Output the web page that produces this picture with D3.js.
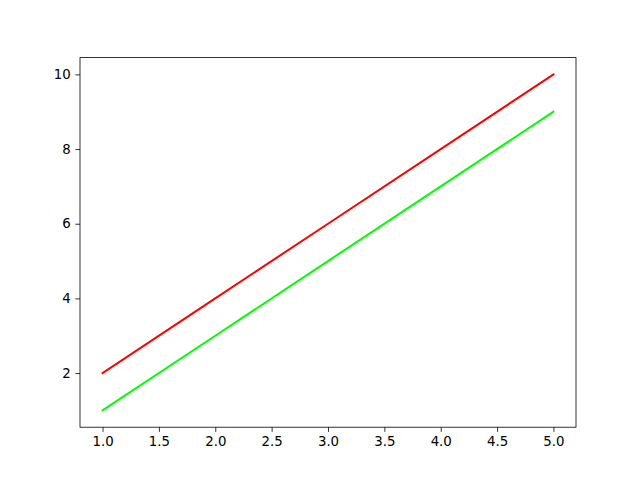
<!DOCTYPE html>
<html>
<head>
<meta charset="utf-8">
<script src="https://d3js.org/d3.v7.min.js"></script>
<style>
body { margin: 0; background: #fff; }
svg text { font-family: 'DejaVu Sans', sans-serif; font-size: 13.33px; fill: #000; }
</style>
</head>
<body>
<svg id="chart" width="640" height="480"></svg>
<script>
// data
var xs = [1, 2, 3, 4, 5];
var redY = [2, 4, 6, 8, 10];
var greenY = [1, 3, 5, 7, 9];
var xTicks = [1.0, 1.5, 2.0, 2.5, 3.0, 3.5, 4.0, 4.5, 5.0];
var yTicks = [2, 4, 6, 8, 10];

var svg = d3.select("#chart"),
    plotL = 80, plotR = 576, plotT = 57.6, plotB = 427.2;

var x = d3.scaleLinear().domain([0.8, 5.2]).range([plotL, plotR]);
var y = d3.scaleLinear().domain([0.55, 10.45]).range([plotB, plotT]);

svg.append("rect").attr("width", 640).attr("height", 480).attr("fill", "#fff");

var line = d3.line()
    .x(function(d) { return x(d[0]); })
    .y(function(d) { return y(d[1]); });

function draw(vals, color) {
  svg.append("path")
    .datum(xs.map(function(v, i) { return [v, vals[i]]; }))
    .attr("d", line)
    .attr("fill", "none")
    .attr("stroke", color)
    .attr("stroke-width", 2)
    .attr("stroke-linecap", "square");
}
draw(redY, "#ff0000");
draw(greenY, "#00ff00");

var xAxis = svg.append("g")
  .attr("transform", "translate(0," + plotB + ")")
  .call(d3.axisBottom(x).tickValues(xTicks).tickFormat(d3.format(".1f")).tickSizeOuter(0).tickSize(4.67).tickPadding(4.67));
var yAxis = svg.append("g")
  .attr("transform", "translate(" + plotL + ",0)")
  .call(d3.axisLeft(y).tickValues(yTicks).tickFormat(d3.format("d")).tickSizeOuter(0).tickSize(4.67).tickPadding(4.67));

[xAxis, yAxis].forEach(function(g) {
  g.select(".domain").remove();
  g.selectAll(".tick line").attr("stroke", "#000").attr("stroke-width", 0.8);
  g.selectAll("text").attr("font-family", "'DejaVu Sans', sans-serif").attr("font-size", 13.33);
});

// frame
svg.append("rect")
  .attr("x", plotL).attr("y", plotT)
  .attr("width", plotR - plotL).attr("height", plotB - plotT)
  .attr("fill", "none").attr("stroke", "#000").attr("stroke-width", 0.8);
</script>
</body>
</html>
